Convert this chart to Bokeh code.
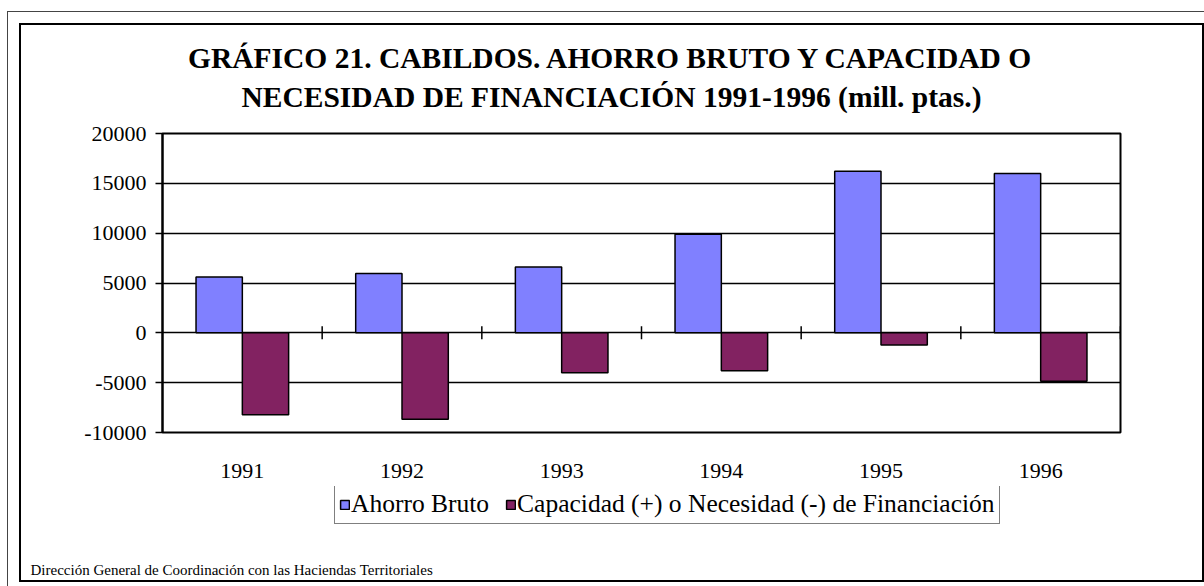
import math
from bokeh.plotting import figure
from bokeh.layouts import column
from bokeh.models import (FactorRange, Range1d, FixedTicker, PrintfTickFormatter, Label,
                          Legend, LegendItem, ColumnDataSource, InlineStyleSheet)
from bokeh.transform import dodge
from bokeh.embed import file_html
from bokeh.resources import INLINE

# ---------------- data ----------------
years = ["1991", "1992", "1993", "1994", "1995", "1996"]
ahorro_bruto = [5600, 5950, 6600, 9900, 16200, 15980]
capacidad_necesidad = [-8230, -8660, -4000, -3800, -1230, -4850]
y_ticks = [-10000, -5000, 0, 5000, 10000, 15000, 20000]
series_names = ["Ahorro Bruto", "Capacidad (+) o Necesidad (-) de Financiación"]
title_lines = ["GRÁFICO 21. CABILDOS. AHORRO BRUTO Y CAPACIDAD O",
               "NECESIDAD DE FINANCIACIÓN 1991-1996 (mill. ptas.)"]
footer_text = "Dirección General de Coordinación con las Haciendas Territoriales"

# ---------------- layout ----------------
W = 1204
H1, H2, H3 = 118, 368, 100          # title strip, chart, legend+footer strip
SERIF = "Liberation Serif"
BLUE = "#8080FF"
PURPLE = "#822261"


def blank_figure(height):
    f = figure(width=W, height=height, output_backend="svg", toolbar_location=None,
               x_axis_type=None, y_axis_type=None, x_range=Range1d(0, 1), y_range=Range1d(0, 1),
               min_border=0, frame_align=False)
    f.outline_line_color = None
    f.grid.grid_line_color = None
    f.background_fill_color = "white"
    f.border_fill_color = "white"
    return f


# ---------- title strip ----------
p1 = blank_figure(H1)
for txt, base in zip(title_lines, [68, 107]):
    p1.add_layout(Label(x=611, y=H1 - base + 11, x_units="screen", y_units="screen",
                        text=txt, text_align="center", text_baseline="alphabetic",
                        text_font=SERIF, text_font_style="bold", text_font_size="29.5px",
                        text_color="black"))

# ---------- chart ----------
TOP0 = H1
src = ColumnDataSource(dict(year=years, ab=ahorro_bruto, cn=capacidad_necesidad))
p = figure(x_range=FactorRange(*years), y_range=Range1d(y_ticks[0], y_ticks[-1]),
           width=W, height=H2, output_backend="svg", toolbar_location=None,
           min_border_left=162, min_border_right=W - 1120,
           min_border_top=133 - TOP0, min_border_bottom=(TOP0 + H2) - 432,
           frame_align=False)
p.background_fill_color = "white"
p.border_fill_color = "white"
p.outline_line_color = "black"
p.outline_line_width = 2

bw = 0.29
r1 = p.vbar(x=dodge("year", -bw / 2, range=p.x_range), top="ab", width=bw, source=src,
            fill_color=BLUE, line_color="black", line_width=1.5)
r2 = p.vbar(x=dodge("year", bw / 2, range=p.x_range), top="cn", width=bw, source=src,
            fill_color=PURPLE, line_color="black", line_width=1.5)

# tick marks on the zero axis between categories
p.scatter(x=list(range(1, len(years) + 1)), y=[0] * len(years), marker="dash",
          angle=math.pi / 2, size=13, line_color="black", line_width=1.5)

p.yaxis.ticker = FixedTicker(ticks=y_ticks)
p.yaxis.formatter = PrintfTickFormatter(format="%d")
p.yaxis.axis_line_color = "black"
p.yaxis.axis_line_width = 2
p.yaxis.major_tick_out = 7
p.yaxis.major_tick_in = 0
p.yaxis.major_tick_line_width = 1.5
p.yaxis.minor_tick_line_color = None
p.yaxis.major_label_standoff = 9
p.yaxis.major_label_text_font = SERIF
p.yaxis.major_label_text_font_size = "22px"
p.yaxis.major_label_text_color = "black"

p.ygrid.grid_line_color = "black"
p.ygrid.grid_line_width = 1.5
p.xgrid.grid_line_color = None

p.xaxis.axis_line_color = None
p.xaxis.major_tick_line_color = None
p.xaxis.minor_tick_line_color = None
p.xaxis.major_tick_out = 0
p.xaxis.major_tick_in = 0
p.xaxis.major_label_standoff = 31
p.xaxis.major_label_text_font = SERIF
p.xaxis.major_label_text_font_size = "22px"
p.xaxis.major_label_text_color = "black"

# ---------- legend + footer strip ----------
TOP3 = H1 + H2
p3 = blank_figure(H3)
# legend keys (hidden renderers, only their styles are shown in the legend)
e1 = p3.vbar(x=[0.5], top=[1], width=0.5, fill_color=BLUE, line_color="black",
             line_width=1.5, visible=False)
e2 = p3.vbar(x=[0.5], top=[1], width=0.5, fill_color=PURPLE, line_color="black",
             line_width=1.5, visible=False)
legend = Legend(items=[LegendItem(label=series_names[0], renderers=[e1]),
                       LegendItem(label=series_names[1], renderers=[e2])],
                location=(334, (TOP3 + H3) - 524), orientation="horizontal",
                glyph_width=11, glyph_height=11, label_standoff=1, padding=4, spacing=16,
                margin=0, border_line_color="black", border_line_width=1.5,
                label_text_font=SERIF, label_text_font_size="25.5px", label_text_color="black",
                label_text_line_height=1.0,
                inactive_fill_alpha=0,
                background_fill_color="white", background_fill_alpha=1)
p3.add_layout(legend)
p3.add_layout(Label(x=30, y=(TOP3 + H3) - 574 + 5, x_units="screen", y_units="screen",
                    text=footer_text, text_align="left", text_baseline="alphabetic",
                    text_font=SERIF, text_font_size="15px", text_color="black"))

# chart borders drawn with CSS around the whole layout
css = """
:host { position: relative; }
:host::before { content: ""; position: absolute; left: 7px; top: 11px; right: 0px; bottom: 0px;
  border-left: 1px solid #444; border-top: 1px solid #444; pointer-events: none; z-index: 100; }
:host::after { content: ""; position: absolute; left: 19px; top: 23px; width: 1185px; height: 559px;
  border: 2px solid #000; box-sizing: border-box; pointer-events: none; z-index: 100; }
"""
layout = column(p1, p, p3, spacing=0, stylesheets=[InlineStyleSheet(css=css)])

open("out.html", "w").write(file_html(layout, INLINE))
